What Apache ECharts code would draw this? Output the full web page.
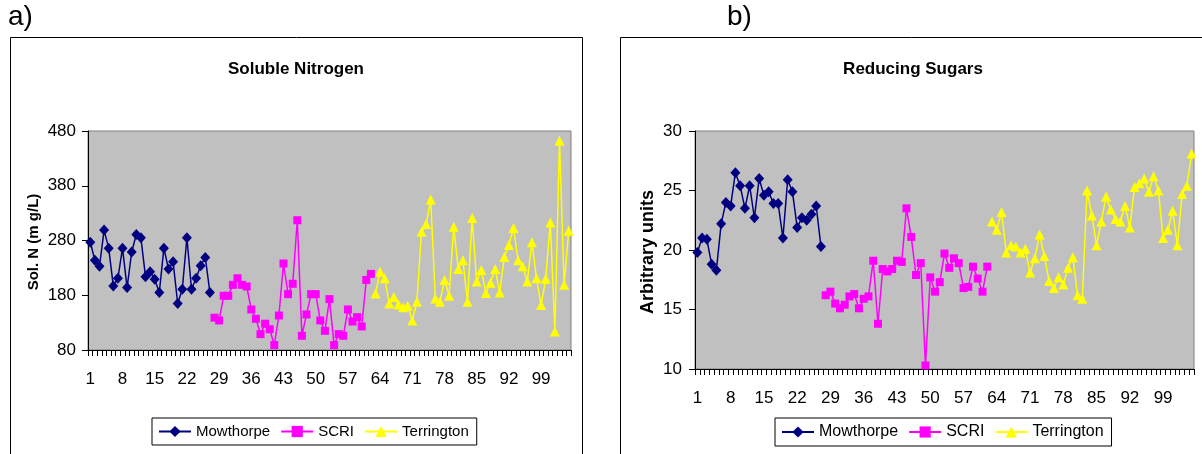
<!DOCTYPE html>
<html>
<head>
<meta charset="utf-8">
<script src="https://cdn.jsdelivr.net/npm/echarts@6/dist/echarts.min.js"></script>
<style>
html,body{margin:0;padding:0;background:#fff;}
#chart{width:1202px;height:454px;}
</style>
</head>
<body>
<div id="chart"></div>
<script>
// ---- data ----
const categories = Array.from({length: 105}, (_, i) => String(i + 1));
const seriesNames = ['Mowthorpe', 'SCRI', 'Terrington'];
const startIndex = [0, 27, 62];   // first category index of each group (1, 28, 63)

// a) Soluble nitrogen (mg/L)
const nMowthorpe = [277,244,233,299,266,197,211,266,194,259,291,285,214,223,209,185,266,228,241,165,191,285,191,211,234,249,185];
const nSCRI = [139,134,179,179,199,211,199,196,154,137,109,128,118,89,143,238,182,201,317,106,145,182,182,134,115,173,89,109,106,154,132,140,123,208,219];
const nTerrington = [183,223,211,165,177,163,158,161,134,168,296,310,355,174,168,208,179,305,228,244,168,321,205,226,184,203,228,185,250,272,303,244,233,205,277,211,162,210,313,114,462,199,298];

// b) Reducing sugars (arbitrary units)
const sMowthorpe = [19.8,21.0,20.9,18.8,18.3,22.2,24.0,23.7,26.5,25.4,23.5,25.4,22.7,26.0,24.6,24.9,23.9,23.9,21.0,25.9,24.9,21.9,22.7,22.5,23.0,23.7,20.3];
const sSCRI = [16.2,16.5,15.5,15.1,15.4,16.1,16.3,15.1,15.9,16.1,19.1,13.8,18.4,18.2,18.4,19.1,19.0,23.5,21.1,17.9,18.9,10.3,17.7,16.5,17.3,19.7,18.5,19.3,18.9,16.8,16.9,18.6,17.6,16.5,18.6];
const sTerrington = [22.4,21.7,23.2,19.8,20.4,20.3,19.8,20.1,18.1,19.3,21.3,19.5,17.4,16.8,17.7,17.1,18.5,19.4,16.2,15.9,25.0,22.9,20.4,22.4,24.5,23.4,22.6,22.4,23.7,21.9,25.3,25.6,26.0,24.9,26.2,25.0,21.0,21.7,23.3,20.4,24.7,25.4,28.1];

const yTicksA = {min: 80, max: 480, interval: 100};
const yTicksB = {min: 10, max: 30, interval: 5};

// ---- helpers ----
function pad(arr, start) {
  return categories.map((_, i) => (i >= start && i < start + arr.length) ? arr[i - start] : null);
}
const FONT = 'Liberation Sans, Arial, sans-serif';
const colors = ['#000080', '#FF00FF', '#FFFF00'];
const symbols = ['diamond', 'rect', 'triangle'];
const symbolSizes = [[10, 11], 8, [10, 10]];

function makeSeries(gridIdx, groups) {
  return groups.map((arr, k) => ({
    type: 'line',
    name: seriesNames[k],
    xAxisIndex: gridIdx,
    yAxisIndex: gridIdx,
    data: pad(arr, startIndex[k]),
    symbol: symbols[k],
    symbolSize: symbolSizes[k],
    showSymbol: true,
    showAllSymbol: true,
    connectNulls: false,
    itemStyle: {color: colors[k], borderWidth: 0},
    lineStyle: {color: colors[k], width: 1.5},
    emphasis: {disabled: true},
    animation: false
  }));
}

function xAxisCfg(gridIdx) {
  return {
    type: 'category', gridIndex: gridIdx, data: categories, boundaryGap: true,
    axisLine: {show: true, lineStyle: {color: '#000', width: 1}},
    axisTick: {show: true, interval: 0, length: 6, lineStyle: {color: '#000'}},
    axisLabel: {interval: 6, fontSize: 17, color: '#000', margin: 21, fontFamily: FONT},
    splitLine: {show: false}
  };
}
function yAxisCfg(gridIdx, t, margin) {
  return {
    type: 'value', gridIndex: gridIdx, min: t.min, max: t.max, interval: t.interval,
    axisLine: {show: true, lineStyle: {color: '#000', width: 1}},
    axisTick: {show: true, length: 6, lineStyle: {color: '#000'}},
    axisLabel: {fontSize: 17, color: '#000', margin: margin, fontFamily: FONT},
    splitLine: {show: false}
  };
}
function legendCfg(left, fs) {
  return {
    data: seriesNames, left: left, top: 418, orient: 'horizontal',
    borderColor: '#000', borderWidth: 1, backgroundColor: '#fff',
    padding: [6, 8, 6, 6], itemGap: 10, itemWidth: 32, itemHeight: 14,
    selectedMode: false,
    textStyle: {fontSize: fs, color: '#000', fontFamily: FONT}
  };
}

const chart = echarts.init(document.getElementById('chart'), null, {renderer: 'canvas'});
chart.setOption({
  animation: false,
  backgroundColor: '#fff',
  grid: [
    {left: 88, top: 131, width: 483, height: 219, show: true, backgroundColor: '#C0C0C0', borderColor: '#808080', borderWidth: 1},
    {left: 695, top: 131, width: 499, height: 238, show: true, backgroundColor: '#C0C0C0', borderColor: '#808080', borderWidth: 1}
  ],
  xAxis: [xAxisCfg(0), xAxisCfg(1)],
  yAxis: [yAxisCfg(0, yTicksA, 12), yAxisCfg(1, yTicksB, 13)],
  legend: [legendCfg(152, 15), legendCfg(775, 16)],
  series: [].concat(
    makeSeries(0, [nMowthorpe, nSCRI, nTerrington]),
    makeSeries(1, [sMowthorpe, sSCRI, sTerrington])
  ),
  graphic: [
    {type: 'rect', silent: true, z: -10, shape: {x: 10.5, y: 37.5, width: 572, height: 430}, style: {fill: 'none', stroke: '#000', lineWidth: 1}},
    {type: 'rect', silent: true, z: -10, shape: {x: 620.5, y: 37.5, width: 600, height: 430}, style: {fill: 'none', stroke: '#000', lineWidth: 1}},
    {type: 'text', x: 8, y: 17, style: {text: 'a)', font: '28px ' + FONT, fill: '#000', textVerticalAlign: 'middle'}},
    {type: 'text', x: 727, y: 17, style: {text: 'b)', font: '28px ' + FONT, fill: '#000', textVerticalAlign: 'middle'}},
    {type: 'text', x: 296, y: 69, style: {text: 'Soluble Nitrogen', font: 'bold 17px ' + FONT, fill: '#000', textAlign: 'center', textVerticalAlign: 'middle'}},
    {type: 'text', x: 913, y: 69, style: {text: 'Reducing Sugars', font: 'bold 17px ' + FONT, fill: '#000', textAlign: 'center', textVerticalAlign: 'middle'}},
    {type: 'text', x: 34, y: 242, rotation: Math.PI / 2, style: {text: 'Sol. N (m g/L)', font: 'bold 15px ' + FONT, fill: '#000', textAlign: 'center', textVerticalAlign: 'middle'}},
    {type: 'text', x: 648, y: 252, rotation: Math.PI / 2, style: {text: 'Arbitrary units', font: 'bold 18px ' + FONT, fill: '#000', textAlign: 'center', textVerticalAlign: 'middle'}}
  ]
});
</script>
</body>
</html>
